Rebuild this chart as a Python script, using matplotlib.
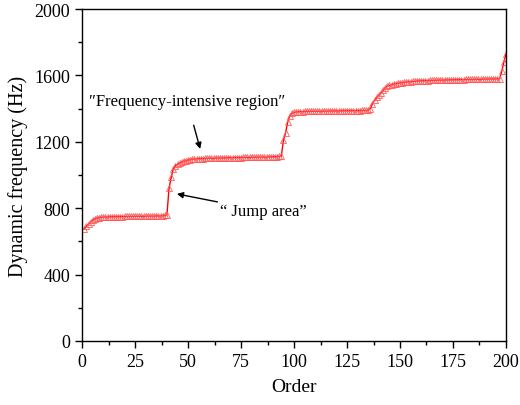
import matplotlib
matplotlib.use("Agg")
import matplotlib.pyplot as plt
from matplotlib.ticker import MultipleLocator

plt.rcParams['font.family'] = ['Liberation Serif', 'DejaVu Serif']

# frecuencias, orden 1..200
f_1_40 = [675, 690, 705, 718, 728, 735, 740, 743, 745, 746,
          747, 747, 748, 748, 748, 749, 749, 749, 749, 750,
          750, 750, 750, 750, 751, 751, 751, 751, 751, 752,
          752, 752, 752, 752, 753, 753, 753, 754, 756, 760]
f_41_94 = [920, 985, 1035, 1055, 1065, 1072, 1078, 1083, 1087, 1090,
           1093, 1095, 1096, 1097, 1098, 1099, 1099, 1100, 1100, 1101,
           1101, 1101, 1102, 1102, 1102, 1103, 1103, 1103, 1104, 1104,
           1104, 1105, 1105, 1105, 1105, 1106, 1106, 1106, 1106, 1107,
           1107, 1107, 1107, 1108, 1108, 1108, 1108, 1109, 1109, 1110,
           1110, 1111, 1112, 1115]
f_95_135 = [1210, 1255, 1320, 1358, 1372, 1378, 1380, 1381, 1382, 1382,
            1383, 1383, 1383, 1384, 1384, 1384, 1384, 1385, 1385, 1385,
            1385, 1385, 1386, 1386, 1386, 1386, 1386, 1387, 1387, 1387,
            1387, 1387, 1388, 1388, 1388, 1388, 1388, 1389, 1389, 1389,
            1390]
f_136_200 = [1400, 1430, 1450, 1468, 1480, 1495, 1510, 1525, 1535, 1540,
             1545, 1548, 1551, 1553, 1555, 1557, 1559, 1560, 1562, 1563,
             1564, 1565, 1566, 1567, 1568, 1568, 1569, 1569, 1570, 1570,
             1571, 1571, 1572, 1572, 1572, 1573, 1573, 1573, 1574, 1574,
             1574, 1575, 1575, 1575, 1575, 1576, 1576, 1576, 1576, 1577,
             1577, 1577, 1577, 1578, 1578, 1578, 1578, 1579, 1579, 1579,
             1580, 1580, 1625, 1680, 1730]

frecuencia = f_1_40 + f_41_94 + f_95_135 + f_136_200
orden = list(range(1, len(frecuencia) + 1))

fig = plt.figure(figsize=(5.2, 4.06), dpi=100)
ax = fig.add_axes([0.158, 0.158, 0.815, 0.817])

ax.plot(orden, frecuencia, color="red", lw=1.0, marker="^", ms=4.5,
        mfc="none", mec="#ff5a5a", mew=0.6)

ax.set_xlim(0, 200)
ax.set_ylim(0, 2000)
ax.xaxis.set_major_locator(MultipleLocator(25))
ax.xaxis.set_minor_locator(MultipleLocator(12.5))
ax.yaxis.set_major_locator(MultipleLocator(400))
ax.yaxis.set_minor_locator(MultipleLocator(200))
ax.tick_params(which="both", direction="out", top=False, right=False, labelsize=13)
ax.tick_params(which="major", length=5, width=1)
ax.tick_params(which="minor", length=3, width=1)
for s in ax.spines.values():
    s.set_linewidth(1.0)

ax.set_xlabel("Order", fontsize=14, labelpad=6)
ax.set_ylabel("Dynamic frequency (Hz)", fontsize=14.5, labelpad=5)

#anotaciones
ax.annotate("\u2033Frequency-intensive region\u2033", xy=(55.7, 1157), xytext=(49.5, 1446),
            ha="center", va="center", fontsize=12,
            arrowprops=dict(arrowstyle="-|>", color="black", lw=1.0,
                            mutation_scale=9, shrinkA=10, shrinkB=0))
ax.annotate("\u201c Jump area\u201d", xy=(44.7, 886), xytext=(85.6, 783),
            ha="center", va="center", fontsize=12,
            arrowprops=dict(arrowstyle="-|>", color="black", lw=1.0,
                            mutation_scale=9, shrinkA=38, shrinkB=0))

fig.savefig("out.png", dpi=100)
